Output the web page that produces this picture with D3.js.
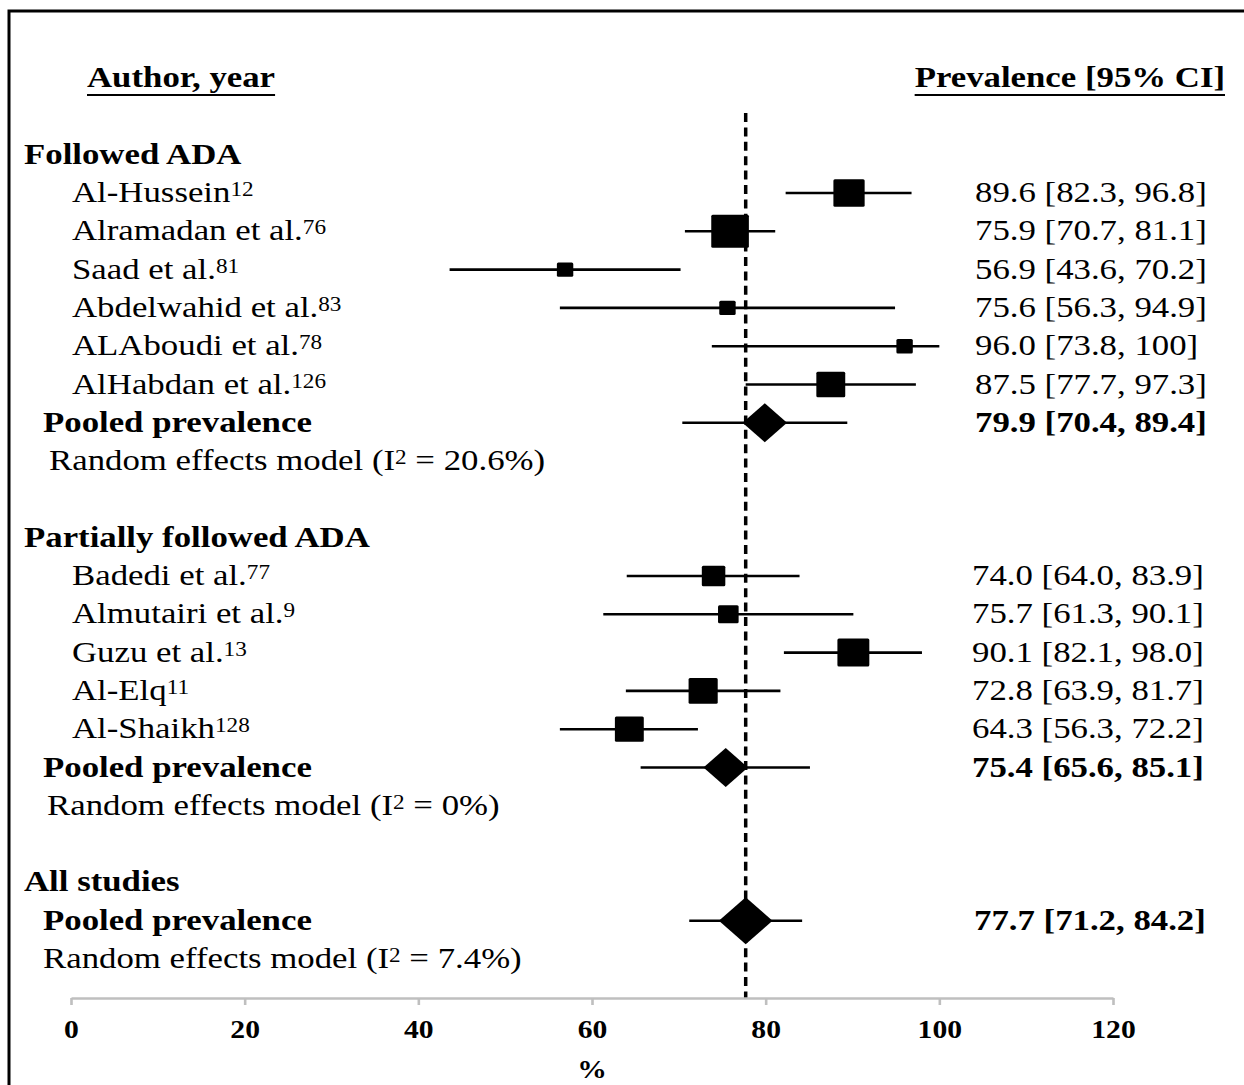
<!DOCTYPE html>
<html>
<head>
<meta charset="utf-8">
<script src="https://cdn.jsdelivr.net/npm/d3@7"></script>
<style>
  html, body { margin: 0; padding: 0; background: #fff; }
  svg { display: block; }
</style>
</head>
<body>
<svg id="chart" width="1244" height="1085"></svg>
<script>
// ---------------- DATA ----------------
const groupNames = ["Followed ADA", "Partially followed ADA"];
const studyGroup = [0, 0, 0, 0, 0, 0, 1, 1, 1, 1, 1];
const studies = ["Al-Hussein", "Alramadan et al.", "Saad et al.", "Abdelwahid et al.", "ALAboudi et al.", "AlHabdan et al.",
                 "Badedi et al.", "Almutairi et al.", "Guzu et al.", "Al-Elq", "Al-Shaikh"];
const refs = ["12", "76", "81", "83", "78", "126", "77", "9", "13", "11", "128"];
const prevalence = [89.6, 75.9, 56.9, 75.6, 96.0, 87.5, 74.0, 75.7, 90.1, 72.8, 64.3];
const lower      = [82.3, 70.7, 43.6, 56.3, 73.8, 77.7, 64.0, 61.3, 82.1, 63.9, 56.3];
const upper      = [96.8, 81.1, 70.2, 94.9, 100,  97.3, 83.9, 90.1, 98.0, 81.7, 72.2];
const weights    = [6.9, 10, 1.9, 1.9, 1.9, 5.9, 3.9, 3.0, 7.2, 6.0, 5.9];

const pooledNames = ["Followed ADA", "Partially followed ADA", "All studies"];
const pooledEst   = [79.9, 75.4, 77.7];
const pooledLower = [70.4, 65.6, 71.2];
const pooledUpper = [89.4, 85.1, 84.2];
const pooledI2    = ["20.6", "0", "7.4"];

const xTicks = [0, 20, 40, 60, 80, 100, 120];
const overallLine = 77.7;

// ---------------- LAYOUT ----------------
const SX = 1.14;               // horizontal stretch of marks in the original picture
const TSX = 1.16;              // horizontal stretch of text
const FONT = "'Liberation Serif','Times New Roman',Times,serif";
const FS = 30, FS_SUP = 20, FS_TICK = 26;
const svg = d3.select("#chart");

const x = d3.scaleLinear().domain([0, 120]).range([71, 1113]);
const ySlot = d3.scaleLinear().domain([0, 21]).range([154.7, 154.7 + 21 * 38.3]);
const side = d3.scaleSqrt().domain([0, 10]).range([0, 33]);
const axisY = 998;
const fmt = v => v === 100 ? "100" : v.toFixed(1);

// frame
svg.append("rect").attr("x", 9).attr("y", 11).attr("width", 1300).attr("height", 1200)
  .attr("fill", "none").attr("stroke", "#000").attr("stroke-width", 3);

// build rows
const rows = [];
let slot = 0;
groupNames.forEach((g, gi) => {
  rows.push({type: "header", text: g, slot: slot++});
  studies.forEach((s, i) => {
    if (studyGroup[i] === gi) rows.push({type: "study", i, slot: slot++});
  });
  rows.push({type: "pooled", p: gi, slot: slot++});
  rows.push({type: "model", p: gi, slot: slot++});
  slot++;
});
rows.push({type: "header", text: pooledNames[2], slot: slot++});
rows.push({type: "pooled", p: 2, slot: slot++});
rows.push({type: "model", p: 2, slot: slot++});

function addText(xp, yp, anchor, weight) {
  return svg.append("text")
    .attr("transform", `translate(${xp},${yp}) scale(${TSX},1)`)
    .attr("text-anchor", anchor)
    .attr("font-family", FONT).attr("font-size", FS)
    .attr("font-weight", weight).attr("fill", "#000");
}

// column headers
const hy = ySlot(-2) + 9;
const h1 = addText(87, hy, "start", "bold").text("Author, year");
const h2 = addText(1225, hy, "end", "bold").text("Prevalence [95% CI]");
[[h1, "start", 87], [h2, "end", 1225]].forEach(([t, a, xp]) => {
  const w = t.node().getComputedTextLength() * TSX;
  const x0 = a === "start" ? xp : xp - w;
  svg.append("line").attr("x1", x0).attr("x2", x0 + w).attr("y1", hy + 8).attr("y2", hy + 8)
    .attr("stroke", "#000").attr("stroke-width", 2);
});

// dashed overall line
svg.append("line")
  .attr("x1", x(overallLine)).attr("x2", x(overallLine))
  .attr("y1", 113).attr("y2", axisY)
  .attr("stroke", "#000").attr("stroke-width", 3.5).attr("stroke-dasharray", "9,5.4");

// rows
rows.forEach(r => {
  const yc = ySlot(r.slot);
  const yb = yc + 9;
  if (r.type === "header") {
    addText(24, yb, "start", "bold").text(r.text);
  } else if (r.type === "study") {
    const i = r.i;
    const t = addText(72, yb, "start", "normal");
    t.append("tspan").text(studies[i]);
    t.append("tspan").attr("font-size", FS_SUP).attr("dy", -6).text(refs[i]);
    svg.append("line").attr("x1", x(lower[i])).attr("x2", x(upper[i]))
      .attr("y1", yc).attr("y2", yc).attr("stroke", "#000").attr("stroke-width", 2.6);
    const h = side(weights[i]), w = h * SX;
    svg.append("rect").attr("x", x(prevalence[i]) - w / 2).attr("y", yc - h / 2)
      .attr("width", w).attr("height", h).attr("rx", 1.5).attr("fill", "#000");
    addText(r.i < 6 ? 975 : 972, yb, "start", "normal")
      .text(`${fmt(prevalence[i])} [${fmt(lower[i])}, ${fmt(upper[i])}]`);
  } else if (r.type === "pooled") {
    const p = r.p;
    addText(43, yb, "start", "bold").text("Pooled prevalence");
    svg.append("line").attr("x1", x(pooledLower[p])).attr("x2", x(pooledUpper[p]))
      .attr("y1", yc).attr("y2", yc).attr("stroke", "#000").attr("stroke-width", 2.6);
    const hh = (p === 2 ? 47 : 39) / 2, hw = hh * SX;
    const cx = x(pooledEst[p]);
    svg.append("path")
      .attr("d", `M${cx - hw},${yc} L${cx},${yc - hh} L${cx + hw},${yc} L${cx},${yc + hh} Z`)
      .attr("fill", "#000");
    addText([975, 972, 974][p], yb, "start", "bold")
      .text(`${fmt(pooledEst[p])} [${fmt(pooledLower[p])}, ${fmt(pooledUpper[p])}]`);
  } else if (r.type === "model") {
    const p = r.p;
    const t = addText([49, 47, 43][p], yb, "start", "normal");
    t.append("tspan").text("Random effects model (I");
    t.append("tspan").attr("font-size", FS_SUP).attr("dy", -6).text("2");
    t.append("tspan").attr("dy", 6).text(` = ${pooledI2[p]}%)`);
  }
});

// axis
const axis = d3.axisBottom(x).tickValues(xTicks).tickSize(7).tickSizeOuter(0).tickPadding(15)
  .tickFormat(d3.format("d"));
const ag = svg.append("g").attr("transform", `translate(0,${axisY})`).call(axis);
ag.select(".domain").attr("stroke", "#bfbfbf").attr("stroke-width", 2.6);
ag.selectAll(".tick line").attr("stroke", "#bfbfbf").attr("stroke-width", 2.6);
ag.selectAll(".tick text")
  .attr("font-family", FONT).attr("font-size", FS_TICK).attr("font-weight", "bold")
  .attr("fill", "#000").attr("transform", `scale(${SX},1)`);

svg.append("text")
  .attr("transform", `translate(${(x.range()[0] + x.range()[1]) / 2},1078) scale(${SX},1)`)
  .attr("text-anchor", "middle").attr("font-family", FONT).attr("font-size", FS_TICK)
  .attr("font-weight", "bold").text("%");
</script>
</body>
</html>
